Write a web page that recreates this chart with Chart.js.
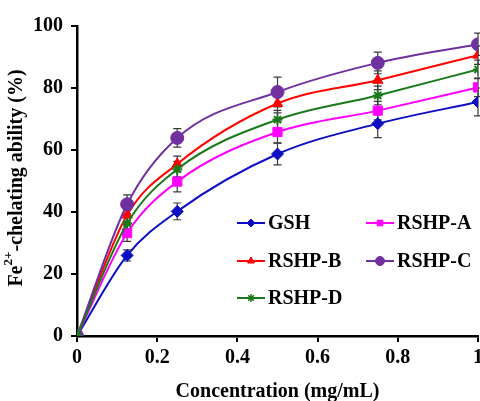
<!DOCTYPE html>
<html>
<head>
<meta charset="utf-8">
<script src="https://cdn.jsdelivr.net/npm/chart.js@4.4.1/dist/chart.umd.min.js"></script>
<style>
  html, body { margin: 0; padding: 0; background: #fff; overflow: hidden; }
  canvas { display: block; }
</style>
</head>
<body>
<canvas id="chelating" width="487" height="401"></canvas>
<script>
const concentrations = [0, 0.125, 0.25, 0.5, 0.75, 1];
const gshValues   = [0, 26.0, 40.2, 58.7, 68.5, 75.5];
const rshpAValues = [0, 33.2, 49.8, 65.8, 72.7, 80.2];
const rshpBValues = [0, 39.0, 55.5, 75.0, 82.5, 90.6];
const rshpCValues = [0, 42.5, 63.9, 78.7, 88.1, 94.1];
const rshpDValues = [0, 36.3, 53.8, 69.8, 77.6, 86.0];

const gshErrors   = [0, 1.8, 2.7, 3.5, 4.5, 4.5];
const rshpAErrors = [0, 2.7, 3.3, 3.5, 3.0, 3.0];
const rshpBErrors = [0, 2.5, 2.5, 3.0, 3.0, 3.0];
const rshpCErrors = [0, 3.0, 3.0, 4.8, 3.5, 3.6];
const rshpDErrors = [0, 2.5, 2.5, 3.0, 3.0, 3.0];

const xTickLabels = ["0", "0.2", "0.4", "0.6", "0.8", "1"];
const yTickLabels = ["0", "20", "40", "60", "80", "100"];

const serifFont = "'Liberation Serif', 'Times New Roman', serif";
const textSize = 20;

function makeSeries(label, values, errors, color, style, radius, order) {
  return {
    label: label,
    data: concentrations.map((c, i) => ({ x: c, y: values[i] })),
    errors: errors,
    borderColor: color,
    backgroundColor: color,
    pointBackgroundColor: color,
    pointBorderColor: color,
    pointStyle: style,
    pointRadius: radius,
    pointBorderWidth: style === "star" ? 2 : 1,
    borderWidth: 2,
    cubicInterpolationMode: "monotone",
    order: order,
  };
}

const series = [
  makeSeries("GSH", gshValues, gshErrors, "#0d0dc4", "rectRot", 6, 5),
  makeSeries("RSHP-A", rshpAValues, rshpAErrors, "#ff00ff", "rect", 6.5, 4),
  makeSeries("RSHP-B", rshpBValues, rshpBErrors, "#ff0000", "triangle", 6, 3),
  makeSeries("RSHP-C", rshpCValues, rshpCErrors, "#7030a0", "circle", 6.5, 2),
  makeSeries("RSHP-D", rshpDValues, rshpDErrors, "#1a7a1a", "star", 5, 1),
];

// error bars drawn behind the markers
const errorBarPlugin = {
  id: "errorBars",
  beforeDatasetsDraw(chart) {
    const ctx = chart.ctx;
    const yScale = chart.scales.y;
    ctx.save();
    ctx.strokeStyle = "#3a3a3a";
    ctx.lineWidth = 1.2;
    chart.data.datasets.forEach((ds, di) => {
      const meta = chart.getDatasetMeta(di);
      meta.data.forEach((pt, i) => {
        const err = ds.errors[i];
        if (!err) return;
        const v = ds.data[i].y;
        const top = yScale.getPixelForValue(v + err);
        const bottom = yScale.getPixelForValue(v - err);
        ctx.beginPath();
        ctx.moveTo(pt.x, top);
        ctx.lineTo(pt.x, bottom);
        ctx.moveTo(pt.x - 4, top);
        ctx.lineTo(pt.x + 4, top);
        ctx.moveTo(pt.x - 4, bottom);
        ctx.lineTo(pt.x + 4, bottom);
        ctx.stroke();
      });
    });
    ctx.restore();
  }
};

// legend inside the plot, two columns
const legendSlots = [
  { x: 237, y: 223 },
  { x: 366, y: 223 },
  { x: 237, y: 261 },
  { x: 366, y: 261 },
  { x: 237, y: 298 },
];

const insideLegendPlugin = {
  id: "insideLegend",
  afterDraw(chart) {
    const ctx = chart.ctx;
    ctx.save();
    chart.data.datasets.forEach((ds, i) => {
      const slot = legendSlots[i];
      ctx.strokeStyle = ds.borderColor;
      ctx.fillStyle = ds.backgroundColor;
      ctx.lineWidth = 2;
      ctx.beginPath();
      ctx.moveTo(slot.x, slot.y);
      ctx.lineTo(slot.x + 28, slot.y);
      ctx.stroke();
      ctx.lineWidth = ds.pointStyle === "star" ? 1.5 : 1;
      Chart.helpers.drawPoint(ctx, {
        pointStyle: ds.pointStyle,
        radius: ds.pointStyle === "circle" ? 4.5 : 4,
        rotation: 0,
        borderWidth: ctx.lineWidth,
      }, slot.x + 14, slot.y);
      ctx.fillStyle = "#000";
      ctx.font = "bold " + textSize + "px " + serifFont;
      ctx.textBaseline = "middle";
      ctx.textAlign = "left";
      ctx.fillText(ds.label, slot.x + 31, slot.y + 1);
    });
    ctx.restore();
  }
};

// y title with superscript
const yTitlePlugin = {
  id: "yTitle",
  afterDraw(chart) {
    const ctx = chart.ctx;
    const big = "bold " + textSize + "px " + serifFont;
    const small = "bold 13px " + serifFont;
    const parts = [
      { t: "Fe", f: big, dy: 0 },
      { t: "2+", f: small, dy: -8 },
      { t: "-chelating ability (%)", f: big, dy: 0 },
    ];
    ctx.save();
    let total = 0;
    parts.forEach(p => { ctx.font = p.f; p.w = ctx.measureText(p.t).width; total += p.w; });
    ctx.translate(17, 178);
    ctx.rotate(-Math.PI / 2);
    ctx.fillStyle = "#000";
    ctx.textBaseline = "middle";
    ctx.textAlign = "left";
    let x = -total / 2;
    parts.forEach(p => {
      ctx.font = p.f;
      ctx.fillText(p.t, x, p.dy);
      x += p.w;
    });
    ctx.restore();
  }
};

const chartConfig = {
  type: "line",
  data: { datasets: series },
  options: {
    responsive: false,
    animation: false,
    events: [],
    layout: {
      padding: { top: 26, right: 0, bottom: -3, left: 25 },
    },
    plugins: {
      legend: { display: false },
      tooltip: { enabled: false },
    },
    scales: {
      x: {
        type: "linear",
        min: 0,
        max: 1,
        border: { display: true, color: "#000", width: 2.5 },
        grid: { display: true, drawOnChartArea: false, drawTicks: true, tickLength: 6, color: "#000", lineWidth: 2 },
        ticks: {
          stepSize: 0.2,
          color: "#000",
          padding: 4,
          font: { family: serifFont, size: textSize, weight: "bold" },
          callback: (value, index) => xTickLabels[index],
        },
        title: {
          display: true,
          text: "Concentration (mg/mL)",
          color: "#000",
          font: { family: serifFont, size: textSize, weight: "bold" },
          padding: { top: 6, bottom: 0 },
        },
      },
      y: {
        min: 0,
        max: 100,
        border: { display: true, color: "#000", width: 2.5 },
        grid: { display: true, drawOnChartArea: false, drawTicks: true, tickLength: 6, color: "#000", lineWidth: 2 },
        ticks: {
          stepSize: 20,
          color: "#000",
          padding: 8,
          font: { family: serifFont, size: textSize, weight: "bold" },
          callback: (value, index) => yTickLabels[index],
        },
      },
    },
  },
  plugins: [errorBarPlugin, insideLegendPlugin, yTitlePlugin],
};

new Chart(document.getElementById("chelating").getContext("2d"), chartConfig);
</script>
</body>
</html>
